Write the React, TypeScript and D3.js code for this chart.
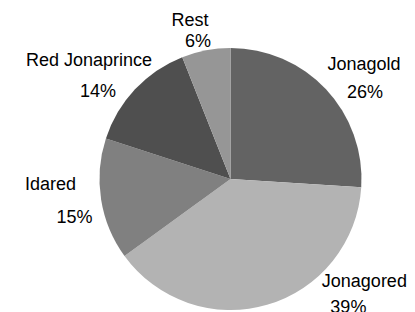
import React, { useEffect, useRef } from 'react';
import * as d3 from 'd3';

const varieties = ['Jonagold', 'Jonagored', 'Idared', 'Red Jonaprince', 'Rest'];
const shares = [26, 39, 15, 14, 6];
const sliceColors = ['#636363', '#b3b3b3', '#808080', '#4f4f4f', '#969696'];

// label placement tweaks relative to the outer label arc centroid
const labelNudge = [
  { nx: 11, ny: 6, px: 12, py: 34 },
  { nx: 87, ny: -53, px: 71, py: -27 },
  { nx: -14, ny: -15, px: 10, py: 18 },
  { nx: -19, ny: 2, px: -10, py: 33 },
  { nx: -9, ny: 12, px: -1, py: 33 },
];

const App = () => {
  const ref = useRef<SVGSVGElement>(null);

  useEffect(() => {
    const width = 415;
    const height = 312;
    const cx = 230.5;
    const cy = 179;
    const radius = 131;

    const svg = d3.select(ref.current);
    svg.selectAll('*').remove();
    svg.attr('width', width).attr('height', height);

    svg.append('rect')
      .attr('width', width)
      .attr('height', height)
      .style('fill', '#fff');

    const data = varieties.map((name, i) => ({ name, value: shares[i], color: sliceColors[i], nudge: labelNudge[i] }));

    const pie = d3.pie<any>()
      .sort(null)
      .value(d => d.value);

    const arc = d3.arc<any>()
      .innerRadius(0)
      .outerRadius(radius);

    const labelArc = d3.arc<any>()
      .innerRadius(168)
      .outerRadius(168);

    const g = svg.append('g')
      .attr('transform', `translate(${cx},${cy})`);

    const arcs = pie(data);

    g.selectAll('path')
      .data(arcs)
      .enter().append('path')
      .attr('d', arc)
      .style('fill', d => d.data.color);

    const labels = g.selectAll('g.label')
      .data(arcs)
      .enter().append('g')
      .attr('class', 'label')
      .attr('transform', d => {
        const [x, y] = labelArc.centroid(d);
        return `translate(${x},${y})`;
      })
      .style('font-family', 'Liberation Sans, Arial, sans-serif')
      .style('font-size', '18px')
      .style('fill', '#000')
      .attr('text-anchor', 'middle');

    labels.append('text')
      .attr('x', d => d.data.nudge.nx)
      .attr('y', d => d.data.nudge.ny)
      .text(d => d.data.name);

    labels.append('text')
      .attr('x', d => d.data.nudge.px)
      .attr('y', d => d.data.nudge.py)
      .text(d => `${d.data.value}%`);
  }, []);

  return (
    <svg ref={ref} style={{ position: 'absolute', left: 0, top: 0 }} />
  );
};

export default App;
